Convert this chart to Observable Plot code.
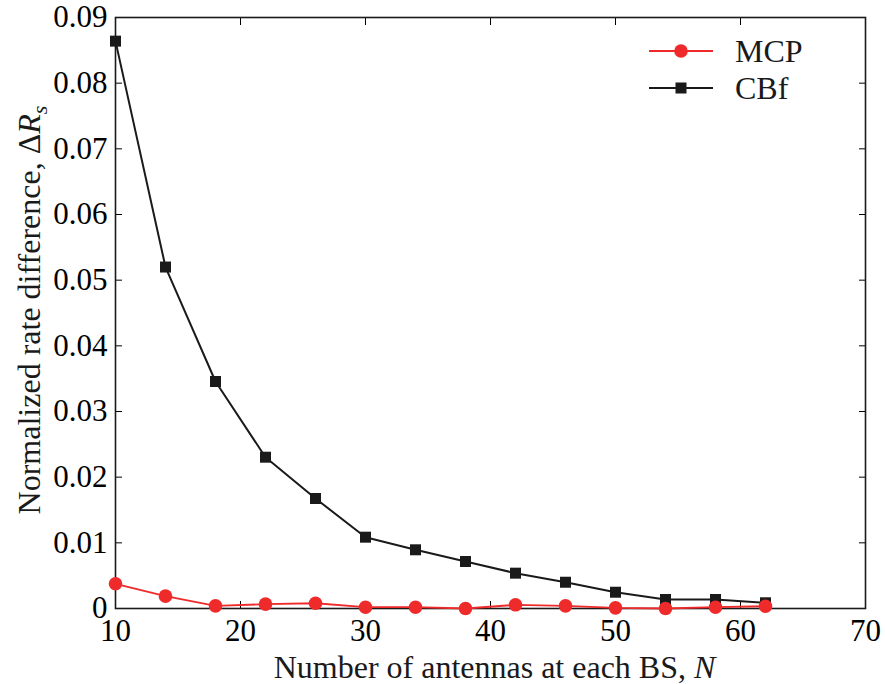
<!DOCTYPE html>
<html><head><meta charset="utf-8">
<script src="https://cdn.jsdelivr.net/npm/d3@7"></script>
<script src="https://cdn.jsdelivr.net/npm/@observablehq/plot@0.6"></script>
<style>
body{margin:0;background:#fff;}
#wrap{position:relative;width:885px;height:684px;}
#wrap svg{background:#fff;}
#wrap svg, #wrap svg g, #wrap svg text{font-family:"Liberation Serif","Times New Roman",serif !important;}
#wrap svg text{font-size:31px;font-variant:normal !important;font-variant-numeric:normal !important;}
#wrap svg text.lbl{font-size:32px;}
</style>
</head><body><div id="wrap"></div>
<script>
const antennas = [10,14,18,22,26,30,34,38,42,46,50,54,58,62];
const mcpValues = [0.00376,0.00188,0.0004,0.00066,0.0008,0.0002,0.0002,0.0,0.00056,0.0004,0.0001,0.0,0.0002,0.00035];
const cbfValues = [0.0864,0.0520,0.03457,0.02304,0.01675,0.01086,0.00894,0.00716,0.00538,0.0040,0.00248,0.00137,0.00137,0.00087];
const xTicks = [10,20,30,40,50,60,70];
const yTicks = [0,0.01,0.02,0.03,0.04,0.05,0.06,0.07,0.08,0.09];
const seriesNames = ["MCP","CBf"];
const seriesColors = ["#ee2a2a","#1a1a1a"];
const xLabel = "Number of antennas at each BS, N";
const yLabel = "Normalized rate difference, ΔRs";

const mcp = antennas.map((n,i)=>({n, v: mcpValues[i]}));
const cbf = antennas.map((n,i)=>({n, v: cbfValues[i]}));
const yFmt = d => d === 0 ? "0" : d.toFixed(2);
const serif = "Liberation Serif";

const chart = Plot.plot({
  width: 885, height: 684,
  marginLeft: 115, marginRight: 20, marginTop: 17, marginBottom: 76,
  x: {domain: [10,70]},
  y: {domain: [0,0.09]},
  marks: [
    Plot.axisX(xTicks, {anchor: "bottom", tickSize: -7, tickPadding: 17, label: null, fontSize: 31, fontFamily: serif}),
    Plot.axisX(xTicks, {anchor: "top", tickSize: -7, tickFormat: () => "", label: null}),
    Plot.axisY(yTicks, {anchor: "left", tickSize: -7, tickPadding: 15, label: null, tickFormat: yFmt, fontSize: 31, fontFamily: serif}),
    Plot.axisY(yTicks, {anchor: "right", tickSize: -7, tickFormat: () => "", label: null}),
    Plot.frame({stroke: "#1a1a1a", strokeWidth: 1.6}),
    Plot.line(cbf, {x: "n", y: "v", stroke: seriesColors[1], strokeWidth: 2}),
    Plot.dot(cbf, {x: "n", y: "v", symbol: "square", r: 6.2, fill: seriesColors[1], stroke: "none"}),
    Plot.line(mcp, {x: "n", y: "v", stroke: seriesColors[0], strokeWidth: 1.8}),
    Plot.dot(mcp, {x: "n", y: "v", r: 6.8, fill: seriesColors[0], stroke: "none"}),
    Plot.text([xLabel], {text: d => d, frameAnchor: "bottom", textAnchor: "middle", lineAnchor: "middle", dy: 59, dx: 4, fontSize: 32, fontFamily: serif, fill: "#1a1a1a"}),
    Plot.text([yLabel], {text: d => d, frameAnchor: "left", textAnchor: "middle", lineAnchor: "middle", dx: -86, dy: -3, rotate: -90, fontSize: 32, fontFamily: serif, fill: "#1a1a1a"})
  ]
});
document.getElementById("wrap").appendChild(chart);

// rich formatting of axis label texts (italic variables, subscript)
const svg = d3.select(chart);
svg.selectAll("text").each(function(){
  const t = d3.select(this);
  const txt = this.textContent;
  if (txt === xLabel) {
    t.text("").classed("lbl", true);
    t.append("tspan").text("Number of antennas at each BS, ");
    t.append("tspan").attr("font-style","italic").text("N");
  } else if (txt === yLabel) {
    t.text("").classed("lbl", true);
    t.append("tspan").text("Normalized rate difference, Δ");
    t.append("tspan").attr("font-style","italic").text("R");
    t.append("tspan").attr("font-style","italic").style("font-size","22px").attr("dy","7").text("s");
  }
});

// legend
const leg = svg.append("g").attr("transform","translate(649,51)").attr("text-anchor","start");
seriesNames.forEach((name,i)=>{
  const g = leg.append("g").attr("transform",`translate(0,${i*37})`);
  g.append("line").attr("x1",0).attr("x2",64).attr("y1",0).attr("y2",0).attr("stroke",seriesColors[i]).attr("stroke-width", 2);
  if (i===0) g.append("circle").attr("cx",32).attr("cy",0).attr("r",6.8).attr("fill",seriesColors[i]);
  else g.append("rect").attr("x",26.5).attr("y",-5.5).attr("width",11).attr("height",11).attr("fill",seriesColors[i]);
  g.append("text").attr("x",86).attr("y",0).attr("dy","0.35em").attr("text-anchor","start").style("font-size","32px").attr("fill","#1a1a1a").text(name);
});

// force style resolution and layout of every text (as in the test run)
svg.selectAll("text").each(function(){ getComputedStyle(this).fontFamily; this.getBBox(); });
</script>
</body></html>
